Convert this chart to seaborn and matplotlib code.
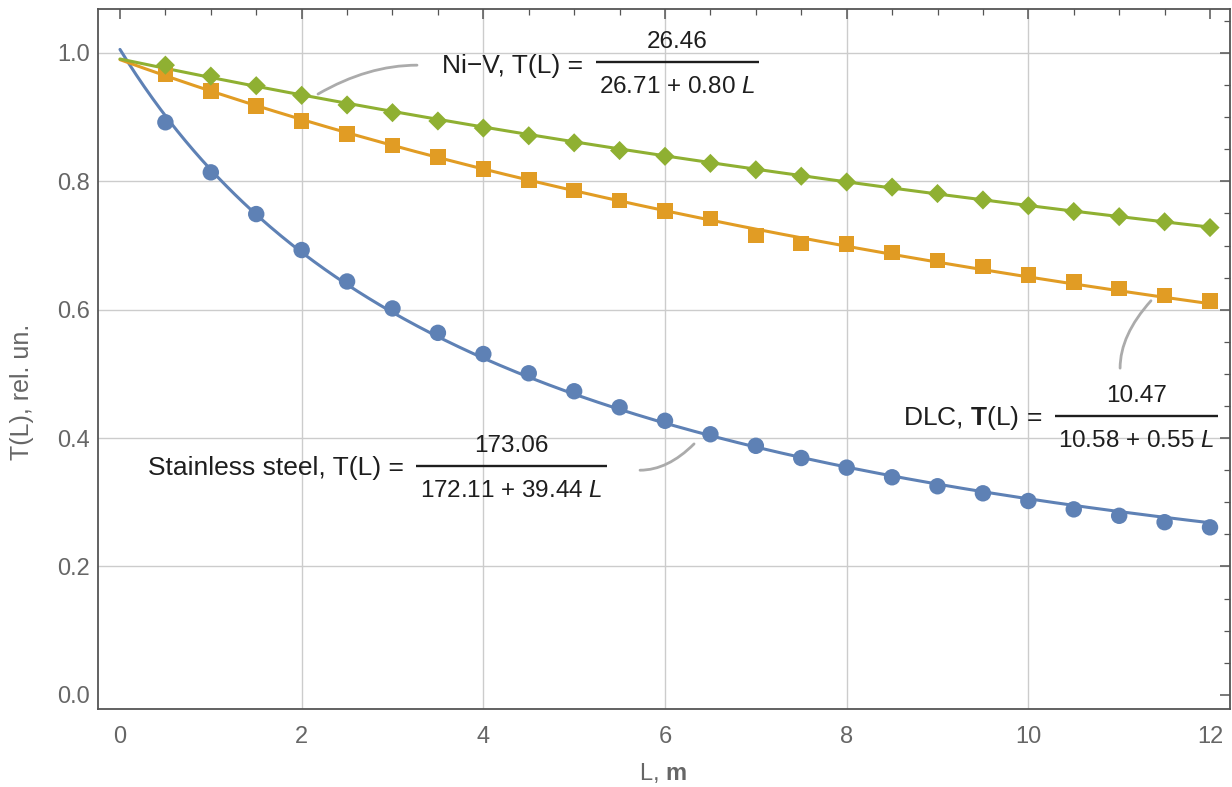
import numpy as np
import pandas as pd
import matplotlib
matplotlib.use("Agg")
import matplotlib.pyplot as plt
from matplotlib.ticker import MultipleLocator
import seaborn as sns

# ---------------- data ----------------
L_points = [0.5, 1.0, 1.5, 2.0, 2.5, 3.0, 3.5, 4.0, 4.5, 5.0, 5.5, 6.0,
            6.5, 7.0, 7.5, 8.0, 8.5, 9.0, 9.5, 10.0, 10.5, 11.0, 11.5, 12.0]
steel_T = [0.892, 0.814, 0.749, 0.693, 0.644, 0.602, 0.564, 0.531, 0.501, 0.473,
           0.448, 0.427, 0.406, 0.388, 0.369, 0.354, 0.339, 0.325, 0.314, 0.302,
           0.289, 0.279, 0.269, 0.261]
dlc_T = [0.967, 0.941, 0.917, 0.894, 0.874, 0.856, 0.838, 0.819, 0.802, 0.786,
         0.770, 0.754, 0.742, 0.716, 0.703, 0.702, 0.689, 0.677, 0.667, 0.654,
         0.643, 0.633, 0.622, 0.614]
niv_T = [0.981, 0.964, 0.949, 0.934, 0.919, 0.907, 0.894, 0.883, 0.871, 0.860,
         0.848, 0.839, 0.828, 0.818, 0.808, 0.799, 0.791, 0.781, 0.771, 0.762,
         0.753, 0.745, 0.737, 0.728]

series_names = ["Stainless steel", "DLC", "Ni\u2212V"]
# fitted model T(L) = num / (a + b L), coefficients as printed on the chart
fit_num = [173.06, 10.47, 26.46]
fit_a = [172.11, 10.58, 26.71]
fit_b = [39.44, 0.55, 0.80]

x_ticks = [0, 2, 4, 6, 8, 10, 12]
x_ticklabels = ["0", "2", "4", "6", "8", "10", "12"]
y_ticks = [0.0, 0.2, 0.4, 0.6, 0.8, 1.0]
y_ticklabels = ["0.0", "0.2", "0.4", "0.6", "0.8", "1.0"]
grid_x = [2, 4, 6, 8, 10]
grid_y = [0.2, 0.4, 0.6, 0.8, 1.0]
x_label = r"L, $\mathbf{m}$"
y_label = "T(L), rel. un."

# ---------------- style ----------------
sns.set_style("white")
plt.rcParams["font.family"] = ["Liberation Sans", "DejaVu Sans"]
plt.rcParams["mathtext.fontset"] = "custom"
plt.rcParams["mathtext.rm"] = "Liberation Sans"
plt.rcParams["mathtext.it"] = "Liberation Sans:italic"
plt.rcParams["mathtext.bf"] = "Liberation Sans:bold"

colors = {"Stainless steel": "#5E81B5", "DLC": "#E19C24", "Ni\u2212V": "#8FB032"}
markers = {"Stainless steel": "o", "DLC": "s", "Ni\u2212V": "D"}
msizes = {"Stainless steel": 140, "DLC": 125, "Ni\u2212V": 95}

fig = plt.figure(figsize=(12.32, 7.87), dpi=100)
ax = fig.add_axes([98 / 1232, 1 - 709 / 787, (1230 - 98) / 1232, 700 / 787])

# grid
for gx in grid_x:
    ax.axvline(gx, color="#cccccc", lw=1.0, zorder=0)
for gy in grid_y:
    ax.axhline(gy, color="#cccccc", lw=1.0, zorder=0)

# fitted curves
L_fine = np.linspace(0, 12, 400)
fit_frames = []
for name, n, a, b in zip(series_names, fit_num, fit_a, fit_b):
    fit_frames.append(pd.DataFrame({"L": L_fine, "T": n / (a + b * L_fine), "series": name}))
fit_df = pd.concat(fit_frames, ignore_index=True)
sns.lineplot(data=fit_df, x="L", y="T", hue="series", palette=colors,
             linewidth=2.2, legend=False, ax=ax, estimator=None, sort=False, zorder=2)

# measured points
pts_df = pd.concat([
    pd.DataFrame({"L": L_points, "T": steel_T, "series": series_names[0]}),
    pd.DataFrame({"L": L_points, "T": dlc_T, "series": series_names[1]}),
    pd.DataFrame({"L": L_points, "T": niv_T, "series": series_names[2]}),
], ignore_index=True)
for name in series_names:
    sub = pts_df[pts_df["series"] == name]
    sns.scatterplot(data=sub, x="L", y="T", color=colors[name], marker=markers[name],
                    s=msizes[name], edgecolor="none", linewidth=0, ax=ax,
                    legend=False, zorder=3)

# axes
ax.set_xlim(-0.242, 12.22)
ax.set_ylim(-0.022, 1.0685)
ax.set_xticks(x_ticks)
ax.set_xticklabels(x_ticklabels)
ax.set_yticks(y_ticks)
ax.set_yticklabels(y_ticklabels)
ax.xaxis.set_minor_locator(MultipleLocator(0.5))
ax.yaxis.set_minor_locator(MultipleLocator(0.05))
ax.tick_params(which="both", direction="in", top=True, right=True,
               color="#555555", labelcolor="#666666")
ax.tick_params(which="major", length=7, width=1.1, labelsize=17)
ax.tick_params(which="minor", length=4, width=0.9)
ax.tick_params(axis="x", which="major", pad=12)
ax.tick_params(axis="y", which="major", pad=6)
for sp in ax.spines.values():
    sp.set_color("#555555")
    sp.set_linewidth(1.3)

ax.set_xlabel(x_label, fontsize=17, color="#666666")
ax.xaxis.label.set_va("center")
ax.xaxis.set_label_coords(0.499, -0.091)
ax.set_ylabel(y_label, fontsize=18, color="#666666")
ax.yaxis.label.set_va("center")
ax.yaxis.set_label_coords(-0.067, 0.453)

# ---------------- annotations ----------------
txt_col = "#1e1e1e"
lead_col = "#ababab"
lab_fs = 19
frac_fs = 17.5

def fraction(xl, xr, y, num, den, label, ylab):
    ax.plot([xl, xr], [y, y], color=txt_col, lw=1.7, solid_capstyle="butt", zorder=4)
    xc = 0.5 * (xl + xr)
    ax.text(xc, y + 0.031, num, ha="center", va="center", fontsize=frac_fs, color=txt_col, zorder=4)
    ax.text(xc, y - 0.039, den, ha="center", va="center", fontsize=frac_fs, color=txt_col, zorder=4)
    ax.text(xl - 0.14, ylab, label, ha="right", va="center", fontsize=lab_fs, color=txt_col, zorder=4)

fraction(5.24, 7.035, 0.986, "26.46", r"26.71 + 0.80 $\mathit{L}$", "Ni\u2212V, T(L) =", 0.980)
fraction(3.26, 5.36, 0.357, "173.06", r"172.11 + 39.44 $\mathit{L}$", "Stainless steel, T(L) =", 0.354)
fraction(10.29, 12.09, 0.4346, "10.47", r"10.58 + 0.55 $\mathit{L}$", r"DLC, $\mathbf{T}$(L) =", 0.432)

def leader(start, end, cs):
    ax.annotate("", xy=end, xytext=start,
                arrowprops=dict(arrowstyle="-", color=lead_col, lw=2.0,
                                connectionstyle=cs, shrinkA=0, shrinkB=0), zorder=4)

leader((3.27, 0.981), (2.18, 0.936), "angle3,angleA=0,angleB=30")
leader((5.725, 0.350), (6.32, 0.391), "angle3,angleA=0,angleB=45")
leader((11.01, 0.509), (11.35, 0.614), "angle3,angleA=90,angleB=48")

fig.savefig("out.png", dpi=100)
